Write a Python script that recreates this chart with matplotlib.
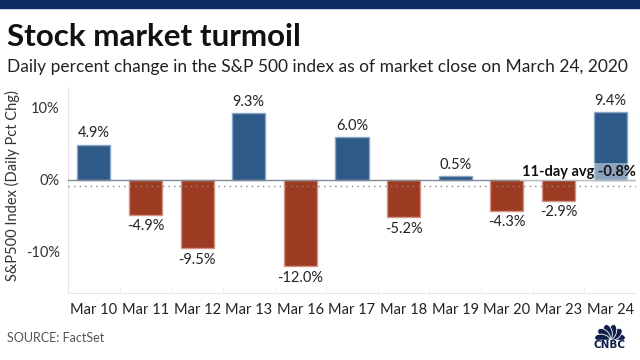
import matplotlib
matplotlib.use("Agg")
import matplotlib.pyplot as plt
from matplotlib.patches import Rectangle, Ellipse
import numpy as np

dates = ["Mar 10", "Mar 11", "Mar 12", "Mar 13", "Mar 16", "Mar 17",
         "Mar 18", "Mar 19", "Mar 20", "Mar 23", "Mar 24"]
pct_change = [4.9, -4.9, -9.5, 9.3, -12.0, 6.0, -5.2, 0.5, -4.3, -2.9, 9.4]
avg_11day = -0.8
yticks = [-10, 0, 10]
ytick_labels = ["-10%", "0%", "10%"]

FONT = "Lato"
BLUE, BLUE_EDGE = "#2d5a88", "#8aa6c6"
RED, RED_EDGE = "#9c3a22", "#d49383"
LOGO = "#0f1e4a"

fig = plt.figure(figsize=(6.4, 3.6), dpi=100)
fig.patch.set_facecolor("white")

# top band
fig.add_artist(Rectangle((0, 1 - 8 / 360), 1, 8 / 360, transform=fig.transFigure,
                         color="#0b2d63", zorder=0))

fig.text(7 / 640, 1 - 37 / 360, "Stock market turmoil", fontsize=22.6,
         fontweight="bold", family=FONT, va="center", ha="left", color="#111111")
fig.text(7 / 640, 1 - 67 / 360,
         "Daily percent change in the S&P 500 index as of market close on March 24, 2020",
         fontsize=12.5, family=FONT, va="center", ha="left", color="#222222")

ax = fig.add_axes([68 / 640, 1 - 293 / 360, 568 / 640, 206 / 360])
x = np.arange(len(dates))
colors = [BLUE if v >= 0 else RED for v in pct_change]
edges = [BLUE_EDGE if v >= 0 else RED_EDGE for v in pct_change]
ax.bar(x, pct_change, width=0.64, color=colors, edgecolor=edges, linewidth=1.0, zorder=2)

for xi, v in zip(x, pct_change):
    if v >= 0:
        ax.annotate(f"{v:.1f}%", (xi, v), xytext=(0, 3), textcoords="offset points",
                    ha="center", va="bottom", fontsize=10.5, family=FONT, color="#222222")
    else:
        ax.annotate(f"{v:.1f}%", (xi, v), xytext=(0, -3), textcoords="offset points",
                    ha="center", va="top", fontsize=10.5, family=FONT, color="#222222")

ax.axhline(0, color="#7f8a96", linewidth=1.0, zorder=3)
ax.axhline(avg_11day, color="#888888", linewidth=1.0, linestyle=(0, (1, 3)), zorder=3)

ax.text(10.5, 0.15, f"11-day avg {avg_11day:.1f}%", ha="right", va="bottom",
        fontsize=10.5, fontweight="bold", family=FONT, color="#111111", zorder=4,
        bbox=dict(facecolor="white", alpha=0.45, edgecolor="none", pad=1.5))

ax.set_xlim(-0.5, len(dates) - 0.5)
ax.set_ylim(-15.7, 12.9)
ax.set_yticks(yticks)
ax.set_yticklabels(ytick_labels, family=FONT, fontsize=10.5, color="#333333")
ax.set_xticks(x)
ax.set_xticklabels(dates, family=FONT, fontsize=10.5, color="#222222")
ax.set_xticks(np.arange(len(dates) - 1) + 0.5, minor=True)
ax.tick_params(axis="y", length=0, pad=6)
ax.tick_params(axis="x", which="major", length=0, pad=7)
ax.tick_params(axis="x", which="minor", length=4, color="#eeeeee", direction="in")
for s in ["top", "right"]:
    ax.spines[s].set_visible(False)
ax.spines["left"].set_color("#e6e6e6")
ax.spines["bottom"].set_color("#e6e6e6")
ax.set_ylabel("S&P500 Index (Daily Pct Chg)", family=FONT, fontsize=10.5,
              color="#333333", labelpad=6)
ax.yaxis.set_label_coords(-0.085, 0.52)

fig.text(7 / 640, 1 - 338 / 360, "SOURCE: FactSet", fontsize=9, family=FONT,
         va="center", ha="left", color="#555555")

# CNBC peacock logo (simplified)
lax = fig.add_axes([592 / 640, 1 - 351 / 360, 36 / 640, 33 / 360])
lax.set_xlim(0, 36)
lax.set_ylim(0, 33)
lax.axis("off")
cx, cy = 18, 11
for ang in np.linspace(10, 170, 6):
    r = np.deg2rad(ang)
    lax.add_patch(Ellipse((cx + 8 * np.cos(r), cy + 8.5 * np.sin(r)), 8.5, 15,
                          angle=ang - 90, facecolor=LOGO, edgecolor="white",
                          linewidth=0.6))
lax.add_patch(Rectangle((0, 0), 36, 11, color="white", zorder=3))
lax.text(18, 6, "CNBC", ha="center", va="center", fontsize=7.5, fontweight="heavy",
         family="DejaVu Sans", color=LOGO, zorder=4)

fig.savefig("out.png", dpi=100, facecolor="white")
